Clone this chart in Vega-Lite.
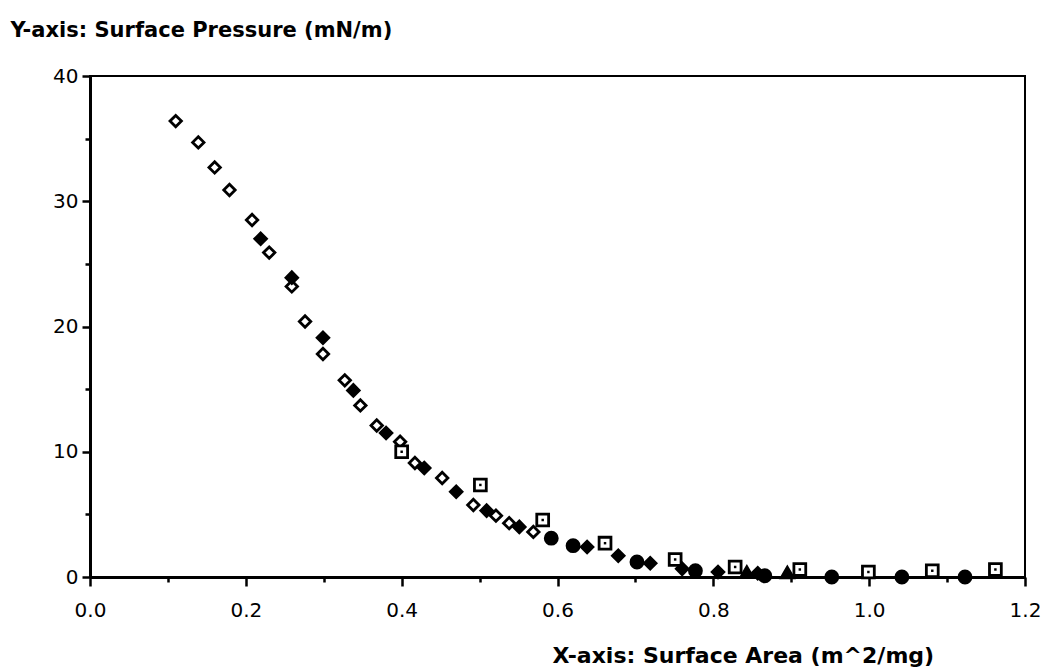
{
  "$schema": "https://vega.github.io/schema/vega-lite/v6.json",
  "width": 935,
  "height": 501,
  "autosize": {"type": "none"},
  "padding": {"left": 90, "top": 76, "right": 23, "bottom": 94},
  "config": {
    "view": {"stroke": "black", "strokeWidth": 2},
    "font": "DejaVu Sans"
  },
  "data": {
    "values": [
      {"area": 0.110, "pressure": 36.4, "run": "A"},
      {"area": 0.139, "pressure": 34.7, "run": "A"},
      {"area": 0.160, "pressure": 32.7, "run": "A"},
      {"area": 0.179, "pressure": 30.9, "run": "A"},
      {"area": 0.208, "pressure": 28.5, "run": "A"},
      {"area": 0.230, "pressure": 25.9, "run": "A"},
      {"area": 0.259, "pressure": 23.2, "run": "A"},
      {"area": 0.276, "pressure": 20.4, "run": "A"},
      {"area": 0.299, "pressure": 17.8, "run": "A"},
      {"area": 0.327, "pressure": 15.7, "run": "A"},
      {"area": 0.347, "pressure": 13.7, "run": "A"},
      {"area": 0.368, "pressure": 12.1, "run": "A"},
      {"area": 0.398, "pressure": 10.8, "run": "A"},
      {"area": 0.417, "pressure": 9.1, "run": "A"},
      {"area": 0.452, "pressure": 7.9, "run": "A"},
      {"area": 0.492, "pressure": 5.75, "run": "A"},
      {"area": 0.521, "pressure": 4.9, "run": "A"},
      {"area": 0.538, "pressure": 4.3, "run": "A"},
      {"area": 0.569, "pressure": 3.6, "run": "A"},
      {"area": 0.219, "pressure": 27.0, "run": "B"},
      {"area": 0.259, "pressure": 23.9, "run": "B"},
      {"area": 0.299, "pressure": 19.1, "run": "B"},
      {"area": 0.338, "pressure": 14.9, "run": "B"},
      {"area": 0.380, "pressure": 11.5, "run": "B"},
      {"area": 0.429, "pressure": 8.7, "run": "B"},
      {"area": 0.470, "pressure": 6.8, "run": "B"},
      {"area": 0.509, "pressure": 5.3, "run": "B"},
      {"area": 0.551, "pressure": 4.0, "run": "B"},
      {"area": 0.638, "pressure": 2.4, "run": "B"},
      {"area": 0.678, "pressure": 1.7, "run": "B"},
      {"area": 0.719, "pressure": 1.1, "run": "B"},
      {"area": 0.760, "pressure": 0.65, "run": "B"},
      {"area": 0.806, "pressure": 0.4, "run": "B"},
      {"area": 0.857, "pressure": 0.3, "run": "B"},
      {"area": 0.400, "pressure": 10.0, "run": "C"},
      {"area": 0.501, "pressure": 7.35, "run": "C"},
      {"area": 0.581, "pressure": 4.55, "run": "C"},
      {"area": 0.661, "pressure": 2.7, "run": "C"},
      {"area": 0.751, "pressure": 1.4, "run": "C"},
      {"area": 0.828, "pressure": 0.8, "run": "C"},
      {"area": 0.911, "pressure": 0.6, "run": "C"},
      {"area": 0.999, "pressure": 0.4, "run": "C"},
      {"area": 1.081, "pressure": 0.5, "run": "C"},
      {"area": 1.162, "pressure": 0.6, "run": "C"},
      {"area": 0.592, "pressure": 3.1, "run": "D"},
      {"area": 0.620, "pressure": 2.5, "run": "D"},
      {"area": 0.702, "pressure": 1.2, "run": "D"},
      {"area": 0.777, "pressure": 0.5, "run": "D"},
      {"area": 0.866, "pressure": 0.1, "run": "D"},
      {"area": 0.952, "pressure": 0.0, "run": "D"},
      {"area": 1.042, "pressure": 0.0, "run": "D"},
      {"area": 1.123, "pressure": 0.0, "run": "D"},
      {"area": 0.843, "pressure": 0.4, "run": "E"},
      {"area": 0.895, "pressure": 0.35, "run": "E"}
    ]
  },
  "encoding": {
    "x": {
      "field": "area",
      "type": "quantitative",
      "scale": {"domain": [0, 1.2], "nice": false, "zero": false},
      "axis": {
        "values": [0, 0.1, 0.2, 0.3, 0.4, 0.5, 0.6, 0.7, 0.8, 0.9, 1.0, 1.1, 1.2],
        "format": ".1f",
        "labelExpr": "round(datum.value*10) % 2 === 0 ? datum.label : ''",
        "tickSize": {"condition": {"test": "round(datum.value*10) % 2 === 0", "value": 9}, "value": 5},
        "grid": false,
        "domainColor": "black",
        "domainWidth": 3,
        "tickColor": "black",
        "tickWidth": 2.5,
        "labelColor": "black",
        "labelFontSize": 20,
        "labelPadding": 14,
        "labelFlush": false,
        "title": "X-axis: Surface Area (m^2/mg)",
        "titleFontSize": 22,
        "titleFontWeight": "bold",
        "titleColor": "black",
        "titleAlign": "left",
        "titleAnchor": "start",
        "titleBaseline": "middle",
        "titleX": 462,
        "titleY": 78
      }
    },
    "y": {
      "field": "pressure",
      "type": "quantitative",
      "scale": {"domain": [0, 40], "nice": false},
      "axis": {
        "values": [0, 5, 10, 15, 20, 25, 30, 35, 40],
        "labelExpr": "datum.value % 10 === 0 ? datum.label : ''",
        "tickSize": {"condition": {"test": "datum.value % 10 === 0", "value": 8}, "value": 5},
        "grid": false,
        "domainColor": "black",
        "domainWidth": 3,
        "tickColor": "black",
        "tickWidth": 2.5,
        "labelColor": "black",
        "labelFontSize": 20,
        "labelPadding": 4,
        "labelFlush": false,
        "title": "Y-axis: Surface Pressure (mN/m)",
        "titleFontSize": 21,
        "titleFontWeight": "bold",
        "titleColor": "black",
        "titleAngle": 0,
        "titleAlign": "left",
        "titleAnchor": "start",
        "titleBaseline": "middle",
        "titleX": -80,
        "titleY": -46
      }
    }
  },
  "layer": [
    {
      "mark": {"type": "point", "stroke": "black", "strokeWidth": 2.8, "opacity": 1},
      "encoding": {
        "shape": {
          "field": "run",
          "type": "nominal",
          "scale": {"domain": ["A", "B", "C", "D", "E"], "range": ["diamond", "diamond", "square", "circle", "triangle-up"]},
          "legend": null
        },
        "fill": {
          "field": "run",
          "type": "nominal",
          "scale": {"domain": ["A", "B", "C", "D", "E"], "range": ["white", "black", "white", "black", "black"]},
          "legend": null
        },
        "size": {
          "field": "run",
          "type": "nominal",
          "scale": {"domain": ["A", "B", "C", "D", "E"], "range": [130, 150, 160, 160, 120]},
          "legend": null
        }
      }
    },
    {
      "transform": [{"filter": "datum.run === 'C'"}],
      "mark": {"type": "square", "color": "black", "size": 6, "opacity": 1}
    }
  ]
}
